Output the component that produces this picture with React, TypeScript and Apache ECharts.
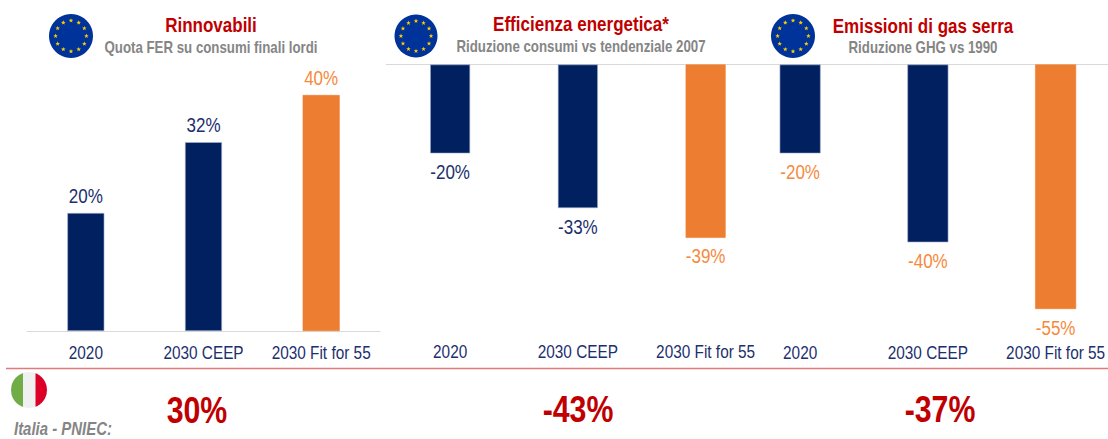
import React, { useEffect, useRef } from "react";
import * as echarts from "echarts";

const categories = ["2020", "2030 CEEP", "2030 Fit for 55"];
const renewables = [20, 32, 40];
const renewablesLabels = ["20%", "32%", "40%"];
const efficiency = [-20, -32.3, -39];
const efficiencyLabels = ["-20%", "-33%", "-39%"];
const emissions = [-20, -40, -55];
const emissionsLabels = ["-20%", "-40%", "-55%"];

const NAVY = "#002060";
const ORANGE = "#ED7D31";
const LABEL_NAVY = "#1C2F6E";
const LABEL_ORANGE = "#F58A3C";
const RED = "#C00000";
const GRAY = "#858585";
const FONT = "'Liberation Sans', Arial, sans-serif";
const NARROW = 0.83;

function starPoints(cx: number, cy: number, r: number) {
  const pts: number[][] = [];
  for (let i = 0; i < 10; i++) {
    const a = -Math.PI / 2 + (i * Math.PI) / 5;
    const rr = i % 2 === 0 ? r : r * 0.42;
    pts.push([cx + rr * Math.cos(a), cy + rr * Math.sin(a)]);
  }
  return pts;
}

function euFlag(cx: number, cy: number, r: number) {
  const children: any[] = [
    { type: "circle", shape: { cx, cy, r }, style: { fill: "#00339A" } },
  ];
  for (let i = 0; i < 12; i++) {
    const a = (i * Math.PI) / 6;
    children.push({
      type: "polygon",
      shape: { points: starPoints(cx + r * 0.7 * Math.sin(a), cy - r * 0.7 * Math.cos(a), 2.4) },
      style: { fill: "#FFCC00" },
    });
  }
  return children;
}

function circleBand(cx: number, cy: number, r: number, x0: number, x1: number) {
  const pts: number[][] = [];
  const steps = 24;
  for (let i = 0; i <= steps; i++) {
    const x = x0 + ((x1 - x0) * i) / steps;
    const dx = Math.max(-r, Math.min(r, x - cx));
    pts.push([x, cy - Math.sqrt(r * r - dx * dx)]);
  }
  for (let i = steps; i >= 0; i--) {
    const x = x0 + ((x1 - x0) * i) / steps;
    const dx = Math.max(-r, Math.min(r, x - cx));
    pts.push([x, cy + Math.sqrt(r * r - dx * dx)]);
  }
  return pts;
}

function text(
  s: string,
  x: number,
  y: number,
  size: number,
  fill: string,
  align: string = "center",
  bold = true,
  italic = false,
) {
  return {
    type: "text",
    x,
    y,
    style: {
      text: s,
      fill,
      font: `${italic ? "italic " : ""}${bold ? "bold " : ""}${size}px ${FONT}`,
      textAlign: align,
      textVerticalAlign: "middle",
    },
  };
}

function barSeries(
  gridIndex: number,
  xAxisIndex: number,
  values: number[],
  labels: string[],
  labelColors: string[],
  position: string,
  barWidth: number,
  distance: number,
) {
  return {
    type: "bar",
    xAxisIndex,
    yAxisIndex: gridIndex,
    barWidth,
    silent: true,
    data: values.map((v, i) => ({
      value: v,
      itemStyle: {
        color: i === 2 ? ORANGE : NAVY,
        borderColor: i === 2 ? ORANGE : "#A9B4CF",
        borderWidth: 0.6,
      },
      label: {
        show: true,
        position,
        distance,
        formatter: labels[i],
        color: labelColors[i],
        fontFamily: FONT,
        fontSize: 20.5,
      },
    })),
  };
}

const tickLabel = (margin: number) => ({
  color: LABEL_NAVY,
  fontFamily: FONT,
  fontSize: 18.5,
  margin,
  interval: 0,
  hideOverlap: false,
});

// The reference's type is a condensed Arial: narrow each text about its own anchor.
function condenseTexts(root: HTMLElement) {
  root.querySelectorAll("svg text").forEach((el) => {
    if (el.getAttribute("data-narrow")) return;
    const x = el.getAttribute("x") || "0";
    const y = el.getAttribute("y") || "0";
    const old = el.getAttribute("transform") || "";
    el.setAttribute(
      "transform",
      `${old} translate(${x} ${y}) scale(${NARROW} 1) translate(${-Number(x)} ${-Number(y)})`.trim(),
    );
    el.setAttribute("data-narrow", "1");
  });
}

export default function App() {
  const ref = useRef<HTMLDivElement>(null);

  useEffect(() => {
    document.body.style.margin = "0";
    const chart = echarts.init(ref.current!, undefined, { renderer: "svg" });
    chart.setOption({
      animation: false,
      backgroundColor: "#ffffff",
      grid: [
        { left: 27, top: 95, width: 353, height: 236, outerBoundsMode: "none" },
        { left: 386.25, top: 64.5, width: 383.25, height: 244.5, outerBoundsMode: "none" },
        { left: 736.25, top: 64.5, width: 383.25, height: 244.5, outerBoundsMode: "none" },
      ],
      xAxis: [
        {
          gridIndex: 0,
          type: "category",
          data: categories,
          position: "bottom",
          axisLine: { lineStyle: { color: "#D9D9D9", width: 1 } },
          axisTick: { show: false },
          axisLabel: tickLabel(13),
        },
        {
          gridIndex: 1,
          type: "category",
          data: categories,
          position: "bottom",
          axisLine: { show: false, onZero: false },
          axisTick: { show: false },
          axisLabel: tickLabel(34),
        },
        {
          gridIndex: 1,
          type: "category",
          data: categories,
          position: "top",
          axisLine: { lineStyle: { color: "#D9D9D9", width: 1 }, onZero: false },
          axisTick: { show: false },
          axisLabel: { show: false },
        },
        {
          gridIndex: 2,
          type: "category",
          data: categories,
          position: "bottom",
          axisLine: { show: false, onZero: false },
          axisTick: { show: false },
          axisLabel: tickLabel(35),
        },
        {
          gridIndex: 2,
          type: "category",
          data: categories,
          position: "top",
          axisLine: { lineStyle: { color: "#D9D9D9", width: 1 }, onZero: false },
          axisTick: { show: false },
          axisLabel: { show: false },
        },
      ],
      yAxis: [
        { gridIndex: 0, type: "value", min: 0, max: 40, show: false },
        { gridIndex: 1, type: "value", min: -55, max: 0, show: false },
        { gridIndex: 2, type: "value", min: -55, max: 0, show: false },
      ],
      series: [
        barSeries(0, 0, renewables, renewablesLabels, [LABEL_NAVY, LABEL_NAVY, LABEL_ORANGE], "top", 37, 7),
        barSeries(1, 1, efficiency, efficiencyLabels, [LABEL_NAVY, LABEL_NAVY, LABEL_ORANGE], "bottom", 40, 8),
        barSeries(2, 3, emissions, emissionsLabels, [LABEL_ORANGE, LABEL_ORANGE, LABEL_ORANGE], "bottom", 41, 8),
      ],
      graphic: [
        ...euFlag(71, 36, 22),
        ...euFlag(416, 36, 21.5),
        ...euFlag(793, 36, 22),
        text("Rinnovabili", 211, 25, 20.5, RED),
        text("Quota FER su consumi finali lordi", 211, 48, 16, GRAY),
        text("Efficienza energetica*", 581, 24, 20.5, RED),
        text("Riduzione consumi vs tendenziale 2007", 581, 47, 16, GRAY),
        text("Emissioni di gas serra", 923, 26, 20.5, RED),
        text("Riduzione GHG vs 1990", 923, 48, 16, GRAY),
        {
          type: "line",
          shape: { x1: 6, y1: 368.5, x2: 1108, y2: 368.5 },
          style: { stroke: "#E07B7B", lineWidth: 1.5 },
        },
        { type: "polygon", shape: { points: circleBand(29, 390, 18, 11, 23) }, style: { fill: "#70AD47" } },
        { type: "polygon", shape: { points: circleBand(29, 390, 18, 23, 35.5) }, style: { fill: "#F0F0F0" } },
        { type: "polygon", shape: { points: circleBand(29, 390, 18, 35.5, 47) }, style: { fill: "#DC0028" } },
        text("Italia - PNIEC:", 14, 429, 18, GRAY, "left", true, true),
        text("30%", 197, 410, 36.5, RED),
        text("-43%", 578, 409, 36.5, RED),
        text("-37%", 940, 409, 36.5, RED),
      ],
    });
    condenseTexts(ref.current!);
    chart.on("finished", () => condenseTexts(ref.current!));
    return () => chart.dispose();
  }, []);

  return <div ref={ref} style={{ width: 1108, height: 439 }} />;
}
